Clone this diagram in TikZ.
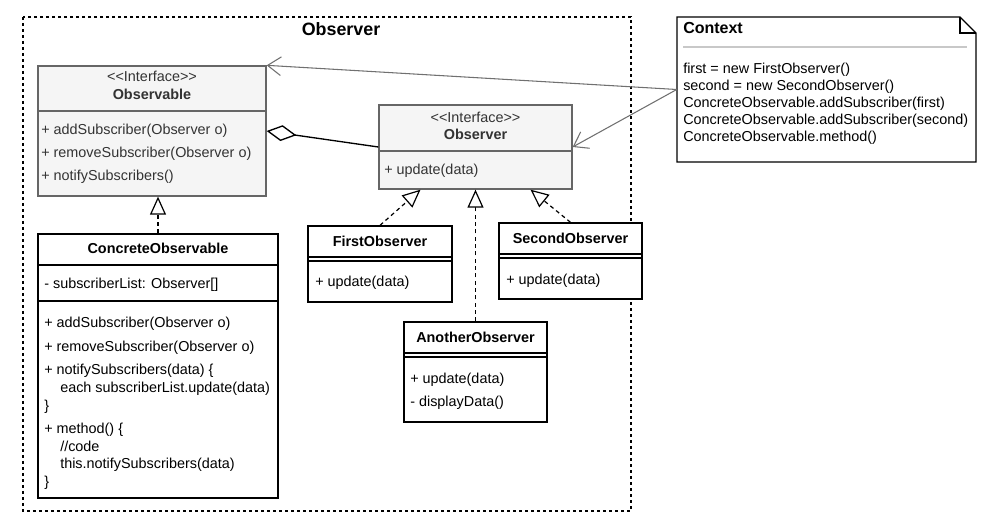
\documentclass[tikz,border=0pt]{standalone}
\usepackage{fontspec}
\setmainfont{Liberation Sans}
\usetikzlibrary{arrows.meta,fit,calc}
\definecolor{ifill}{HTML}{F5F5F5}
\definecolor{istroke}{HTML}{666666}
\definecolor{itext}{HTML}{333333}
\definecolor{linkgray}{HTML}{707070}
\definecolor{rulegray}{HTML}{C8C8C8}
\newcommand\umlfont{\fontsize{10.8}{13}\selectfont}

\begin{document}
\begin{tikzpicture}[x=0.75pt,y=-0.75pt,
  txt/.style={font=\umlfont, inner sep=0pt, anchor=base west},
  ctr/.style={txt, anchor=base},
  bname/.style={ctr, font=\umlfont\bfseries},
  ibox/.style={draw=istroke, fill=ifill, line width=1pt, inner sep=0pt},
  cbox/.style={draw=black, fill=white, line width=1pt, inner sep=0pt},
  ghost/.style={inner sep=0pt},
  realize/.style={draw=black, line width=0.9pt, dash pattern=on 3pt off 2.5pt,
    -{Triangle[open, length=13.5pt, width=12pt, fill=white]}},
  compose/.style={draw=black, line width=1pt,
    {Diamond[open, length=22.5pt, width=12pt, fill=white]}-},
  assoc/.style={draw=linkgray, line width=0.8pt,
    -{Straight Barb[length=10pt, width=14pt]}},
  frame/.style={draw=black, line width=1pt, dash pattern=on 2.25pt off 2.25pt}
]
\useasboundingbox (0,0) rectangle (1000,530);

% package frame
\draw[frame] (23,17) rectangle (631,511);
\node[bname, font=\fontsize{13.4}{16}\selectfont\bfseries] (pkgtitle) at (341,36) {Observer};

% <<Interface>> Observable
\node[ibox, fit={(38,66) (266,196)}] (observable) {};
\draw[istroke, line width=1pt] (38,111) -- (266,111);
\node[ctr, itext] (obsst) at (152,82) {<{}<Interface>{}>};
\node[bname, itext] (obsname) at (152,100) {Observable};
\node[txt, itext] (obsm1) at (41,135) {+ addSubscriber(Observer o)};
\node[txt, itext] (obsm2) at (41,158) {+ removeSubscriber(Observer o)};
\node[txt, itext] (obsm3) at (41,181) {+ notifySubscribers()};

% <<Interface>> Observer
\node[ibox, fit={(379,105) (572,189)}] (observer) {};
\draw[istroke, line width=1pt] (379,151) -- (572,151);
\node[ctr, itext] (obvst) at (475.5,123) {<{}<Interface>{}>};
\node[bname, itext] (obvname) at (475.5,140) {Observer};
\node[txt, itext] (obvm1) at (384,175) {+ update(data)};

% ConcreteObservable
\node[cbox, fit={(38,234) (278,498)}] (concrete) {};
\draw[line width=1pt] (38,265) -- (278,265);
\draw[line width=1pt] (38,301) -- (278,301);
\node[bname] (conname) at (158,254) {ConcreteObservable};
\node[txt] (cona1) at (44,289) {- subscriberList: Observer[]};
\node[txt] (conm1) at (44,328) {+ addSubscriber(Observer o)};
\node[txt] (conm2) at (44,352) {+ removeSubscriber(Observer o)};
\node[txt] (conm3) at (44,375) {+ notifySubscribers(data) \{};
\node[txt] (conm3b) at (60,393) {each subscriberList.update(data)};
\node[txt] (conm3c) at (44,411) {\}};
\node[txt] (conm4) at (44,434) {+ method() \{};
\node[txt] (conm4b) at (60,452) {//code};
\node[txt] (conm4c) at (60,469) {this.notifySubscribers(data)};
\node[txt] (conm4d) at (44,487) {\}};

% FirstObserver
\node[cbox, fit={(308,226) (452,302)}] (first) {};
\draw[line width=1pt] (308,257) -- (452,257);
\draw[line width=1pt] (308,261) -- (452,261);
\node[bname] (firstname) at (380,247) {FirstObserver};
\node[txt] (firstm1) at (315,287) {+ update(data)};

% SecondObserver
\node[cbox, fit={(499,223) (642,299)}] (second) {};
\draw[line width=1pt] (499,254) -- (642,254);
\draw[line width=1pt] (499,258) -- (642,258);
\node[bname] (secondname) at (570.5,244) {SecondObserver};
\node[txt] (secondm1) at (506,285) {+ update(data)};

% AnotherObserver
\node[cbox, fit={(404,322) (547,422)}] (another) {};
\draw[line width=1pt] (404,353) -- (547,353);
\draw[line width=1pt] (404,357) -- (547,357);
\node[bname] (anothername) at (475.5,343) {AnotherObserver};
\node[txt] (anotherm1) at (410,384) {+ update(data)};
\node[txt] (anotherm2) at (410,407) {- displayData()};

% Context note with folded corner
\draw[line width=1pt, fill=white] (677,17) -- (960,17) -- (976,33) -- (976,162) -- (677,162) -- cycle;
\draw[line width=1pt] (960,17) -- (960,33) -- (976,33);
\node[ghost, fit={(677,17) (976,162)}] (context) {};
\node[txt, font=\fontsize{12}{14}\selectfont\bfseries] (ctxtitle) at (683,34) {Context};
\draw[rulegray, line width=1.5pt] (683,47) -- (967,47);
\node[txt] (ctx1) at (683,74) {first = new FirstObserver()};
\node[txt] (ctx2) at (683,91) {second = new SecondObserver()};
\node[txt] (ctx3) at (683,108) {ConcreteObservable.addSubscriber(first)};
\node[txt] (ctx4) at (683,125) {ConcreteObservable.addSubscriber(second)};
\node[txt] (ctx5) at (683,142) {ConcreteObservable.method()};

% relations
\draw[realize] (concrete.north) -- (concrete.north |- observable.south);
\draw[realize] (first.north) -- ($(observer.south)+(-55,0)$);
\draw[realize] (second.north) -- ($(observer.south)+(55,0)$);
\draw[realize] (another.north) -- (observer.south);
\draw[compose] (observable.east) -- (observer.west);
\draw[assoc] (context.west) -- (observable.north east);
\draw[assoc] (context.west) -- (observer.east);
\end{tikzpicture}
\end{document}
